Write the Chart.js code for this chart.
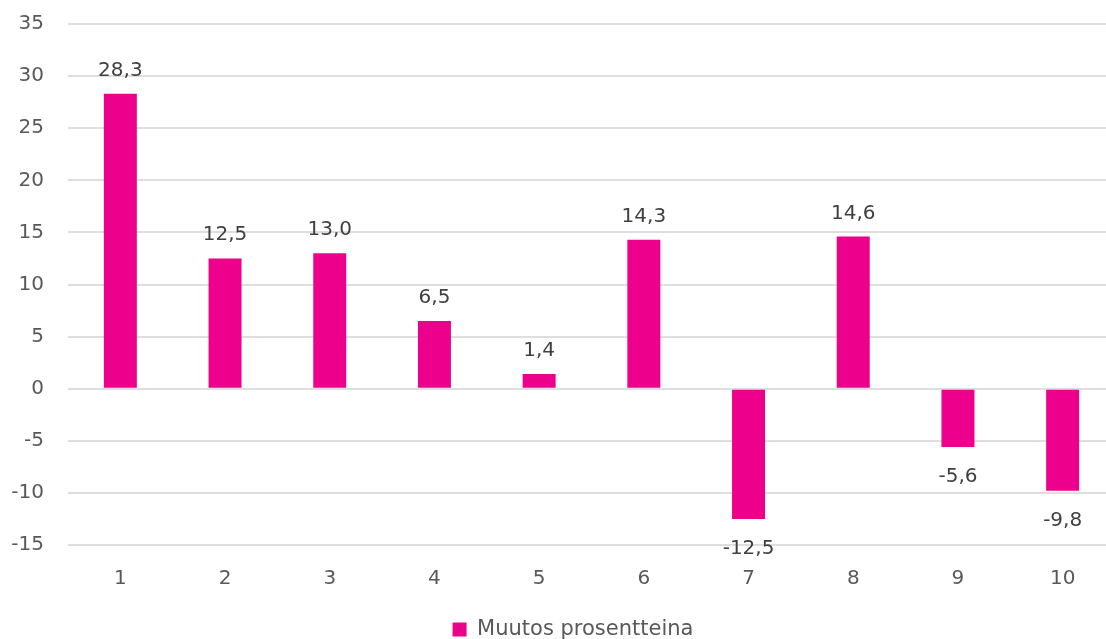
<!DOCTYPE html>
<html>
<head>
<meta charset="utf-8">
<script src="https://cdn.jsdelivr.net/npm/chart.js@4"></script>
<style>
    html, body { margin: 0; padding: 0; background: #fff; overflow: hidden; }
    #wrap { position: relative; width: 1146px; height: 639px; }
</style>
</head>
<body>
<div id="wrap"><canvas id="chart"></canvas></div>
<script>
"use strict";

// Data
var categories = ["1", "2", "3", "4", "5", "6", "7", "8", "9", "10"];
var muutos = [28.3, 12.5, 13.0, 6.5, 1.4, 14.3, -12.5, 14.6, -5.6, -9.8];
var seriesName = "Muutos prosentteina";

var settings = {
    barColor: "#EC008C",
    tickColor: "#595959",
    labelColor: "#404040",
    gridColor: "#dedede",
    font: "DejaVu Sans",
};

// value labels above / below each bar, finnish decimal comma
var valueLabels = {
    id: "valueLabels",
    afterDatasetsDraw: function (chart) {
        var ctx = chart.ctx,
            meta = chart.getDatasetMeta(0);
        ctx.save();
        ctx.font = "20px '" + settings.font + "'";
        ctx.fillStyle = settings.labelColor;
        ctx.textAlign = "center";
        ctx.textBaseline = "alphabetic";
        meta.data.forEach(function (bar, i) {
            var v = muutos[i],
                txt = v.toFixed(1).replace(".", ",");
            if (v >= 0) {
                ctx.fillText(txt, bar.x, bar.y - 18);
            } else {
                ctx.fillText(txt, bar.x, bar.y + 35);
            }
        });
        ctx.restore();
    }
};

Chart.defaults.font.family = settings.font;
Chart.defaults.font.size = 20;

new Chart(document.getElementById("chart").getContext("2d"), {
    type: "bar",
    data: {
        labels: categories,
        datasets: [{
            label: seriesName,
            data: muutos,
            backgroundColor: settings.barColor,
            categoryPercentage: 1.0,
            barPercentage: 0.315,
        }]
    },
    options: {
        responsive: true,
        maintainAspectRatio: false,
        animation: false,
        layout: { padding: { top: 24, right: 0, left: 0, bottom: -11 } },
        scales: {
            x: {
                grid: { display: false },
                border: { display: false },
                ticks: { color: settings.tickColor, padding: 14, font: { size: 20 } },
                afterFit: function (scale) { scale.height = 74; }
            },
            y: {
                min: -15,
                max: 35,
                ticks: { stepSize: 5, color: settings.tickColor, padding: 24, font: { size: 20 } },
                grid: { color: settings.gridColor, lineWidth: 2, drawTicks: false },
                border: { display: false },
                afterFit: function (scale) {
                    scale.width = 68;
                    scale.paddingTop = 0;
                    scale.paddingBottom = 0;
                }
            },
            // empty strip on the right so the plot runs past the edge
            spacer: {
                type: "linear",
                position: "right",
                grid: { display: false },
                border: { display: false },
                ticks: { display: false },
                afterFit: function (scale) { scale.width = 31; }
            }
        },
        plugins: {
            legend: {
                position: "bottom",
                labels: {
                    color: settings.tickColor,
                    boxWidth: 14,
                    boxHeight: 14,
                    padding: 0,
                    font: { size: 21 }
                }
            },
            tooltip: { enabled: false }
        }
    },
    plugins: [valueLabels]
});
</script>
</body>
</html>
